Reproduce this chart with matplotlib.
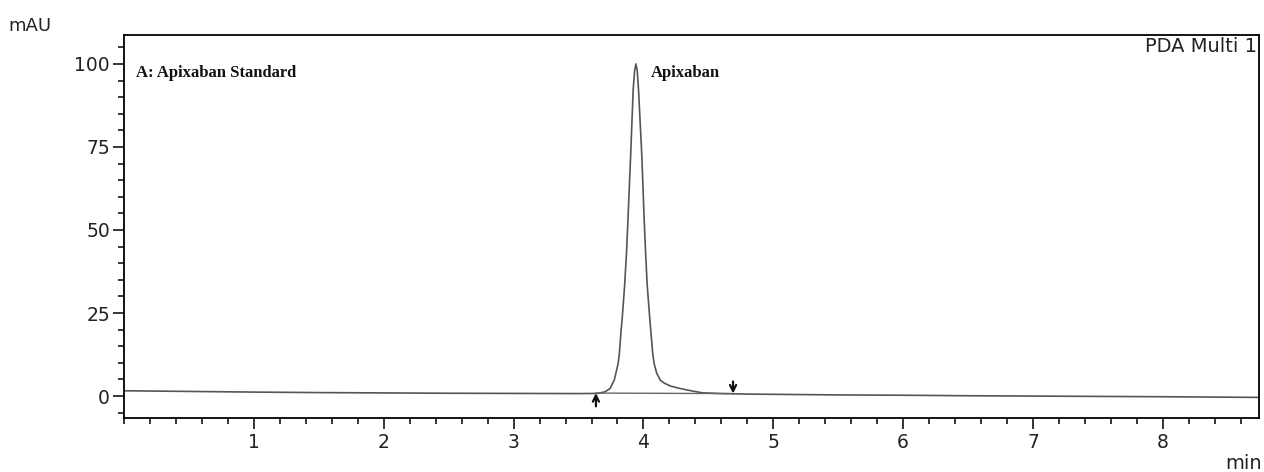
import matplotlib
matplotlib.use("Agg")
import matplotlib.pyplot as plt
from matplotlib.ticker import MultipleLocator

# ---- data ----
time_min = [0.0, 0.5, 1.0, 1.5, 2.0, 2.5, 3.0, 3.5, 3.65, 3.705, 3.743,
            3.775, 3.788, 3.805, 3.815, 3.828, 3.836, 3.855, 3.870, 3.879,
            3.901, 3.921, 3.932, 3.942, 3.952, 3.962, 3.988, 4.005, 4.016,
            4.029, 4.049, 4.056, 4.071, 4.082, 4.102, 4.130, 4.160, 4.210,
            4.280, 4.340, 4.450, 4.6, 4.8, 5.5, 6.0, 6.5, 7.0, 7.5, 8.0,
            8.74]
signal_mau = [1.6, 1.4, 1.2, 1.05, 0.95, 0.85, 0.8, 0.75, 0.8, 1.3, 2.3,
              4.8, 6.9, 9.8, 13.0, 19.9, 23.2, 33.3, 43.5, 51.5,
              72.0, 92.3, 98.0, 100.0, 98.0, 92.3, 72.0, 53.7, 43.5,
              33.3, 23.2, 19.9, 13.0, 9.8, 6.9, 4.8, 3.9, 3.0,
              2.3, 1.8, 1.0, 0.75, 0.6, 0.35, 0.25, 0.1, 0.0, -0.1, -0.2,
              -0.4]

peak_start = 3.634
peak_end = 4.69
baseline_start_val = 0.9
baseline_end_val = 0.75
peak_name = "Apixaban"
peak_apex_time = 3.942
sample_title = "A: Apixaban Standard"
detector_label = "PDA Multi 1"

x_major = [1, 2, 3, 4, 5, 6, 7, 8]
y_major = [0, 25, 50, 75, 100]

# ---- figure ----
fig = plt.figure(figsize=(12.64, 4.72), dpi=100)
ax = fig.add_axes([124 / 1264, 54 / 472, 1135 / 1264, 383 / 472])

line_col = "#555555"
txt_col = "#222222"

ax.plot(time_min, signal_mau, color=line_col, lw=1.2)
ax.plot([peak_start, peak_end], [baseline_start_val, baseline_end_val],
        color="#666666", lw=1.0)

# integration markers
ax.annotate("", xy=(peak_start, baseline_start_val), xytext=(peak_start, -3.1),
            arrowprops=dict(arrowstyle="->", color="#111111", lw=1.6,
                            shrinkA=0, shrinkB=0, mutation_scale=11))
ax.annotate("", xy=(peak_end, baseline_end_val), xytext=(peak_end, 4.4),
            arrowprops=dict(arrowstyle="->", color="#111111", lw=1.6,
                            shrinkA=0, shrinkB=0, mutation_scale=11))

ax.set_xlim(0, 8.74)
ax.set_ylim(-6.6, 108.7)
ax.set_xticks(x_major)
ax.set_yticks(y_major)
ax.xaxis.set_minor_locator(MultipleLocator(0.2))
ax.yaxis.set_minor_locator(MultipleLocator(5))

ax.tick_params(axis="both", which="major", direction="out", length=8,
               width=1.1, labelsize=13.5, labelcolor=txt_col, color="black")
ax.tick_params(axis="both", which="minor", direction="out", length=4,
               width=1.1, color="black")
ax.tick_params(axis="y", which="major", pad=2)
ax.tick_params(axis="x", which="major", pad=3)
ax.tick_params(axis="x", which="both", top=False)
ax.tick_params(axis="y", which="both", right=False)

for s in ax.spines.values():
    s.set_linewidth(1.3)
    s.set_color("black")

ax.text(0.0106, 96.0, sample_title, transform=ax.get_yaxis_transform(),
        family="Liberation Serif", weight="bold", fontsize=12,
        color="#111111", va="baseline", ha="left")
ax.text(peak_apex_time + 0.113, 96.0, peak_name,
        family="Liberation Serif", weight="bold", fontsize=12,
        color="#111111", va="baseline", ha="left")
ax.text(0.998, 0.9556, detector_label, transform=ax.transAxes,
        family="DejaVu Sans", fontsize=14, color=txt_col,
        va="baseline", ha="right")

fig.text(8 / 1264, (472 - 30.7) / 472, "mAU", family="DejaVu Sans",
         fontsize=13, color=txt_col, va="baseline", ha="left")
fig.text(1262 / 1264, 3 / 472, "min", family="DejaVu Sans",
         fontsize=14, color=txt_col, va="baseline", ha="right")

fig.savefig("out.png", dpi=100)
